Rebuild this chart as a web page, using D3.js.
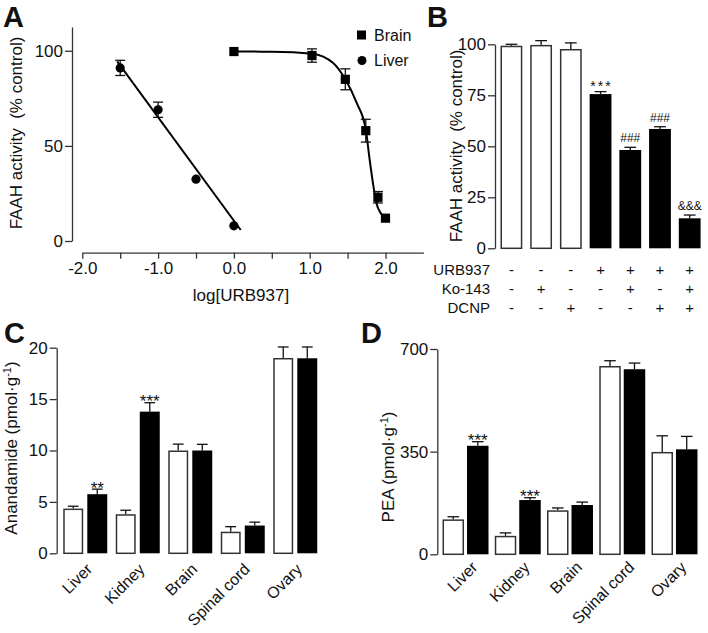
<!DOCTYPE html>
<html><head><meta charset="utf-8">
<script src="https://cdn.jsdelivr.net/npm/d3@7"></script>
<style>
body{margin:0;background:#fff}
svg{display:block}
text{font-family:'Liberation Sans',Arial,Helvetica,sans-serif;fill:#111}
.axis path,.axis line{stroke:#333;stroke-width:1.3px}
.axis text{font-family:'Liberation Sans',Arial,Helvetica,sans-serif;font-size:17px;fill:#111}
</style>
</head><body>
<svg id="c" width="708" height="633"></svg>
<script>
// ---------- DATA ----------
// Panel A
const liverX = [-1.5, -1, -0.5, 0];
const liverY = [91, 69, 32.5, 8];
const liverErr = [4, 4, 0, 0];
const brainX = [0, 1.03, 1.47, 1.74, 1.9, 2.0];
const brainY = [99.6, 97.5, 85, 58, 23, 12];
const brainErr = [0, 3.5, 5.5, 6, 3, 0];
const liverFitX = [-1.54, 0.09];
const liverFitY = [94.4, 5.8];
const brainFitX = [0, 0.5, 1.03, 1.31, 1.47, 1.62, 1.74, 1.79, 1.84, 1.88, 1.94, 2.0];
const brainFitY = [99.6, 99.5, 98.5, 93.6, 85, 72.6, 58.6, 43, 29, 20, 14.5, 12];
const aXTicks = [-2, -1.5, -1, -0.5, 0, 0.5, 1, 1.5, 2];
const aYTicks = [0, 50, 100];
const legendA = ["Brain", "Liver"];
// Panel B
const bValues = [99.3, 99.7, 97.7, 75.6, 48.2, 58.5, 14.7];
const bErr = [0.7, 2.1, 3, 1.2, 1.3, 1.1, 1.6];
const bBlack = [false, false, false, true, true, true, true];
const bAnn = ["", "", "", "***", "###", "###", "&&&"];
const bRowLabels = ["URB937", "Ko-143", "DCNP"];
const bURB = ["-", "-", "-", "+", "+", "+", "+"];
const bKo = ["-", "+", "-", "-", "+", "-", "+"];
const bDCNP = ["-", "-", "+", "-", "-", "+", "+"];
const bYTicks = [0, 25, 50, 75, 100];
// Panels C and D
const tissues = ["Liver", "Kidney", "Brain", "Spinal cord", "Ovary"];
const cVeh = [4.35, 3.8, 10, 2.1, 19];
const cVehErr = [0.23, 0.39, 0.62, 0.49, 1.07];
const cURB = [5.75, 13.78, 10, 2.7, 18.97];
const cURBErr = [0.49, 0.87, 0.6, 0.33, 1.1];
const cAnn = ["**", "***", "", "", ""];
const cYTicks = [0, 5, 10, 15, 20];
const dVeh = [119, 63, 150, 642, 349];
const dVehErr = [9, 10, 8, 18, 55];
const dURB = [370, 185, 168, 631, 358];
const dURBErr = [14, 8, 10, 21, 44];
const dAnn = ["***", "***", "", "", ""];
const dYTicks = [0, 350, 700];

// ---------- DRAW ----------
const svg = d3.select("#c");
svg.append("rect").attr("width", 708).attr("height", 633).attr("fill", "#fff");

function panelLetter(t, x, y) {
  svg.append("text").attr("x", x).attr("y", y).text(t)
    .style("font-size", "29px").style("font-weight", "bold");
}
function yTitle(x, y, parts) {
  const t = svg.append("text").attr("transform", `translate(${x},${y}) rotate(-90)`)
    .attr("text-anchor", "middle").style("font-size", "17px");
  parts.forEach(p => {
    const s = t.append("tspan").text(p.t);
    if (p.sup) s.attr("baseline-shift", "super").style("font-size", "11px");
  });
}

// ===== Panel A =====
panelLetter("A", 3, 27);
const xA = d3.scaleLinear().domain([-2, 2.5]).range([82.3, 423.4]);
const yA = d3.scaleLinear().domain([0, 112.5]).range([241, 27]);
svg.append("g").attr("class", "axis").attr("transform", "translate(72,0)")
  .call(d3.axisLeft(yA).tickValues(aYTicks).tickSize(7).tickPadding(2).tickSizeOuter(0));
svg.append("g").attr("class", "axis").attr("transform", "translate(0,252.7)")
  .call(d3.axisBottom(xA).tickValues(aXTicks).tickSize(6).tickPadding(3).tickSizeOuter(0)
    .tickFormat(d => Number.isInteger(d) ? d.toFixed(1) : ""));
svg.append("text").attr("x", 241).attr("y", 301).attr("text-anchor", "middle")
  .style("font-size", "17px").text("log[URB937]");
yTitle(21.5, 133, [{t: "FAAH activity\u00a0\u00a0(% control)"}]);

const line = d3.line().x(d => xA(d[0])).y(d => yA(d[1]));
svg.append("path").attr("d", line(liverFitX.map((x, i) => [x, liverFitY[i]])))
  .attr("fill", "none").attr("stroke", "#000").attr("stroke-width", 2);
svg.append("path").attr("d", line.curve(d3.curveMonotoneX)(brainFitX.map((x, i) => [x, brainFitY[i]])))
  .attr("fill", "none").attr("stroke", "#000").attr("stroke-width", 2);

function errA(xs, ys, es) {
  xs.forEach((x, i) => {
    if (!es[i]) return;
    const g = svg.append("g").attr("stroke", "#111").attr("stroke-width", 1.3);
    const px = xA(x), y1 = yA(ys[i] + es[i]), y2 = yA(ys[i] - es[i]);
    g.append("line").attr("x1", px).attr("x2", px).attr("y1", y1).attr("y2", y2);
    g.append("line").attr("x1", px - 5).attr("x2", px + 5).attr("y1", y1).attr("y2", y1);
    g.append("line").attr("x1", px - 5).attr("x2", px + 5).attr("y1", y2).attr("y2", y2);
  });
}
errA(liverX, liverY, liverErr);
errA(brainX, brainY, brainErr);
svg.selectAll(".lv").data(liverX).enter().append("circle")
  .attr("cx", d => xA(d)).attr("cy", (d, i) => yA(liverY[i])).attr("r", 4.6).attr("fill", "#000");
svg.selectAll(".br").data(brainX).enter().append("rect")
  .attr("x", d => xA(d) - 4.6).attr("y", (d, i) => yA(brainY[i]) - 4.6)
  .attr("width", 9.2).attr("height", 9.2).attr("fill", "#000");
// legend
svg.append("rect").attr("x", 357).attr("y", 30.5).attr("width", 9).attr("height", 9).attr("fill", "#000");
svg.append("circle").attr("cx", 362).attr("cy", 60.5).attr("r", 4.5).attr("fill", "#000");
legendA.forEach((t, i) => svg.append("text").attr("x", 374).attr("y", 41 + i * 25)
  .style("font-size", "16px").text(t));

// ===== Panel B =====
panelLetter("B", 427, 27);
const yB = d3.scaleLinear().domain([0, 100]).range([248.3, 44.3]);
const xB = d3.scaleBand().domain(d3.range(bValues.length)).range([495, 706.1])
  .paddingInner(0.266).paddingOuter(0.185);
svg.append("g").attr("class", "axis").attr("transform", "translate(495,0)")
  .call(d3.axisLeft(yB).tickValues(bYTicks).tickSize(7).tickPadding(2).tickSizeOuter(0));
yTitle(461.5, 146, [{t: "FAAH activity\u00a0\u00a0(% control)"}]);

function barsWithErr(xPos, w, yS, vals, errs, black) {
  vals.forEach((v, i) => {
    const x = xPos(i);
    const cx = x + w / 2;
    const yt = yS(v + errs[i]);
    svg.append("line").attr("x1", cx).attr("x2", cx).attr("y1", yS(v)).attr("y2", yt)
      .attr("stroke", "#111").attr("stroke-width", 1.3);
    svg.append("line").attr("x1", cx - w * 0.27).attr("x2", cx + w * 0.27).attr("y1", yt).attr("y2", yt)
      .attr("stroke", "#111").attr("stroke-width", 1.3);
    const bl = black(i);
    svg.append("rect").attr("x", bl ? x : x + 0.75).attr("y", yS(v) + (bl ? 0 : 0.75))
      .attr("width", bl ? w : w - 1.5).attr("height", yS(0) - yS(v) - (bl ? 0 : 0.75))
      .attr("fill", bl ? "#000" : "#fff").attr("stroke", bl ? "none" : "#333").attr("stroke-width", 1.5);
  });
}
barsWithErr(i => xB(i), xB.bandwidth(), yB, bValues, bErr, i => bBlack[i]);
bAnn.forEach((a, i) => {
  if (!a) return;
  const star = a[0] === "*";
  svg.append("text").attr("x", xB(i) + xB.bandwidth() / 2 + (star ? 1 : 0))
    .attr("y", yB(bValues[i] + bErr[i]) - (star ? 1 : 5))
    .attr("text-anchor", "middle").style("font-size", star ? "14px" : "12px")
    .style("letter-spacing", star ? "2px" : "0px").text(a);
});
const bRows = [bURB, bKo, bDCNP];
bRowLabels.forEach((lab, r) => {
  const y = 275 + r * 19;
  svg.append("text").attr("x", 490).attr("y", y).attr("text-anchor", "end")
    .style("font-size", "15px").text(lab);
  bRows[r].forEach((s, i) => svg.append("text").attr("x", xB(i) + xB.bandwidth() / 2).attr("y", y)
    .attr("text-anchor", "middle").style("font-size", "15px").text(s));
});

// ===== Panels C & D =====
function groupedPanel(o) {
  const y = d3.scaleLinear().domain(o.domain).range(o.yRange);
  const x0 = d3.scaleBand().domain(tissues).range(o.xRange).paddingInner(o.pIn).paddingOuter(0.1);
  const x1 = d3.scaleBand().domain(["veh", "urb"]).range([0, x0.bandwidth()]).paddingInner(o.pSub);
  svg.append("g").attr("class", "axis").attr("transform", `translate(${o.axisX},0)`)
    .call(d3.axisLeft(y).tickValues(o.ticks).tickSize(7).tickPadding(2).tickSizeOuter(0));
  const w = x1.bandwidth();
  barsWithErr(i => x0(tissues[i]) + x1("veh"), w, y, o.veh, o.vehErr, () => false);
  barsWithErr(i => x0(tissues[i]) + x1("urb"), w, y, o.urb, o.urbErr, () => true);
  o.ann.forEach((a, i) => {
    if (!a) return;
    svg.append("text").attr("x", x0(tissues[i]) + x1("urb") + w / 2)
      .attr("y", y(o.urb[i] + o.urbErr[i]) + 4.5).attr("text-anchor", "middle")
      .style("font-size", "17px").text(a);
  });
  tissues.forEach(t => {
    const cx = x0(t) + x0.bandwidth() / 2 + o.labDx;
    const cy = o.yRange[0] + o.labDy;
    svg.append("text").attr("transform", `translate(${cx},${cy}) rotate(-45)`)
      .attr("text-anchor", "end").style("font-size", "16px").text(t);
  });
}
panelLetter("C", 4, 343);
groupedPanel({domain: [0, 20], yRange: [553.3, 347.7], xRange: [58, 322.5], pIn: 0.162, pSub: 0.17,
  axisX: 56.7, ticks: cYTicks, veh: cVeh, vehErr: cVehErr, urb: cURB, urbErr: cURBErr, ann: cAnn,
  labDx: 8, labDy: 17});
yTitle(17, 448, [{t: "Anandamide (pmol\u00b7g"}, {t: "-1", sup: true}, {t: ")"}]);

panelLetter("D", 361, 343);
groupedPanel({domain: [0, 700], yRange: [554.3, 349], xRange: [437.3, 702.7], pIn: 0.12, pSub: 0.122,
  axisX: 437.3, ticks: dYTicks, veh: dVeh, vehErr: dVehErr, urb: dURB, urbErr: dURBErr, ann: dAnn,
  labDx: 13, labDy: 14});
yTitle(394, 467, [{t: "PEA (pmol\u00b7g"}, {t: "-1", sup: true}, {t: ")"}]);
</script>
</body></html>
